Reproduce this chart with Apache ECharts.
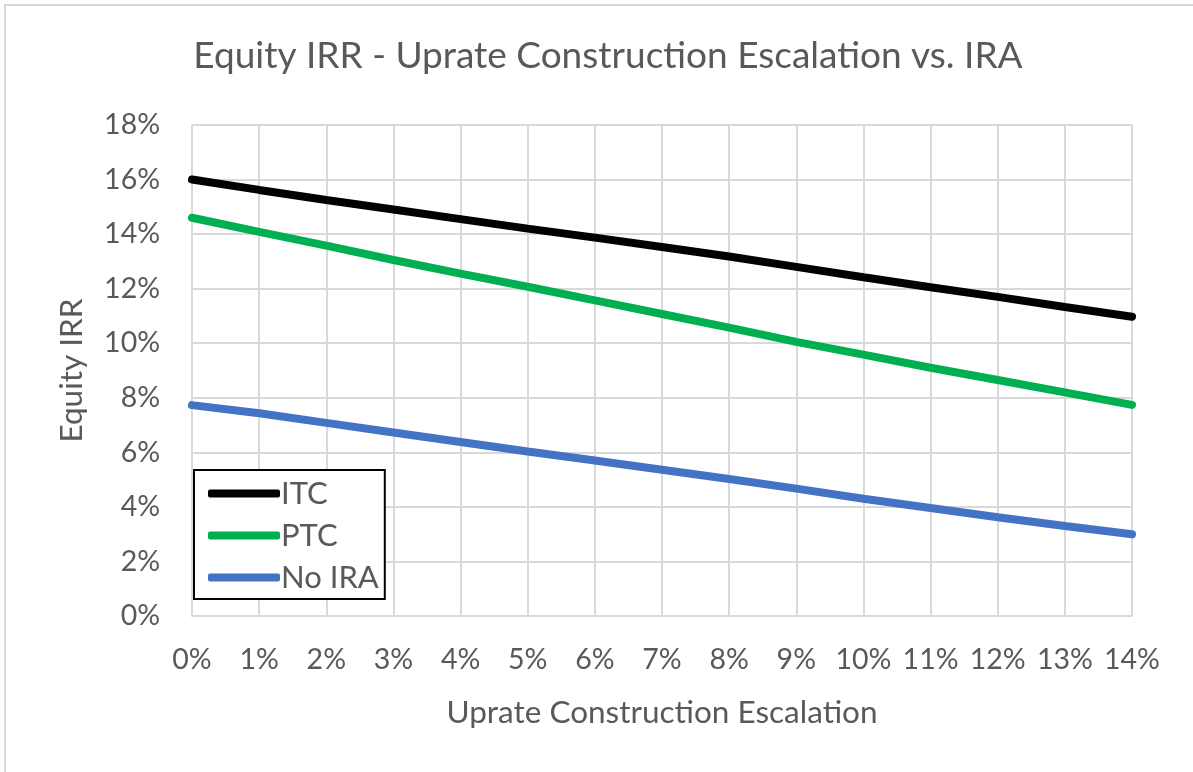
<!DOCTYPE html>
<html>
<head>
<meta charset="utf-8">
<script src="https://cdn.jsdelivr.net/npm/echarts@6/dist/echarts.min.js"></script>
<style>
  html, body { margin: 0; padding: 0; background: #ffffff; }
  #chart { width: 1193px; height: 772px; }
</style>
</head>
<body>
<div id="chart"></div>
<script>
// 横轴刻度
const escalation = ['0%', '1%', '2%', '3%', '4%', '5%', '6%', '7%', '8%', '9%', '10%', '11%', '12%', '13%', '14%'];

// 各情景的股本内部收益率（%）
const itc = [16.0, 15.62, 15.25, 14.9, 14.55, 14.2, 13.87, 13.53, 13.18, 12.8, 12.42, 12.05, 11.7, 11.33, 10.97];
const ptc = [14.6, 14.08, 13.58, 13.05, 12.55, 12.07, 11.57, 11.07, 10.57, 10.05, 9.58, 9.1, 8.65, 8.2, 7.74];
const noIra = [7.73, 7.43, 7.08, 6.73, 6.38, 6.03, 5.7, 5.36, 5.02, 4.67, 4.3, 3.96, 3.62, 3.3, 3.0];

const textColor = '#595959';
const gridColor = '#d9d9d9';
const fontFamily = 'Lato, "Open Sans", sans-serif';

const chart = echarts.init(document.getElementById('chart'));

const option = {
    backgroundColor: '#ffffff',
    animation: false,
    textStyle: { fontFamily: fontFamily },
    title: {
        text: 'Equity IRR - Uprate Construction Escalation vs. IRA',
        left: 603,
        textAlign: 'center',
        top: 33,
        textStyle: { color: textColor, fontSize: 37, fontWeight: 'normal', fontFamily: fontFamily }
    },
    // 外边框
    graphic: [{
        type: 'rect',
        shape: { x: 5, y: 5, width: 1300, height: 900 },
        style: { fill: 'none', stroke: gridColor, lineWidth: 2 },
        silent: true
    }],
    legend: {
        orient: 'vertical',
        left: 194,
        top: 470,
        backgroundColor: '#ffffff',
        borderColor: '#000000',
        borderWidth: 2,
        padding: [8, 6, 6, 14],
        itemGap: 11,
        itemWidth: 72,
        itemHeight: 8,
        icon: 'roundRect',
        textStyle: { color: textColor, fontSize: 31, fontFamily: fontFamily, padding: [0, 0, 0, -4] },
        data: ['ITC', 'PTC', 'No IRA']
    },
    grid: {
        left: 192,
        right: 61,
        top: 125,
        bottom: 156
    },
    xAxis: {
        type: 'category',
        data: escalation,
        boundaryGap: false,
        name: 'Uprate Construction Escalation',
        nameLocation: 'middle',
        nameGap: 81,
        nameTextStyle: { color: textColor, fontSize: 31.5, fontFamily: fontFamily },
        axisLine: { lineStyle: { color: gridColor, width: 2 } },
        axisTick: { show: false },
        axisLabel: { color: textColor, fontSize: 28.5, margin: 29, interval: 0, hideOverlap: false, fontFamily: fontFamily },
        splitLine: { show: true, interval: 0, lineStyle: { color: gridColor, width: 2 } }
    },
    yAxis: {
        type: 'value',
        min: 0,
        max: 18,
        interval: 2,
        name: 'Equity IRR',
        nameLocation: 'middle',
        nameGap: 104,
        nameTextStyle: { color: textColor, fontSize: 31.5, fontFamily: fontFamily },
        axisLine: { show: false },
        axisTick: { show: false },
        axisLabel: { color: textColor, fontSize: 28.5, margin: 32, fontFamily: fontFamily, formatter: '{value}%' },
        splitLine: { lineStyle: { color: gridColor, width: 2 } }
    },
    series: [
        {
            name: 'ITC',
            type: 'line',
            data: itc,
            showSymbol: false,
            symbol: 'none',
            color: '#000000',
            lineStyle: { width: 8, color: '#000000', cap: 'round' }
        },
        {
            name: 'PTC',
            type: 'line',
            data: ptc,
            showSymbol: false,
            symbol: 'none',
            color: '#00b050',
            lineStyle: { width: 8, color: '#00b050', cap: 'round' }
        },
        {
            name: 'No IRA',
            type: 'line',
            data: noIra,
            showSymbol: false,
            symbol: 'none',
            color: '#4472c4',
            lineStyle: { width: 8, color: '#4472c4', cap: 'round' }
        }
    ]
};

chart.setOption(option);
</script>
</body>
</html>
